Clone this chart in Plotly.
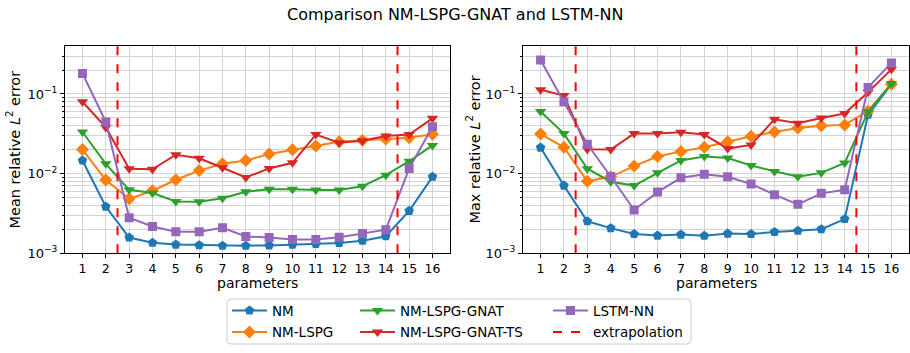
import plotly.graph_objects as go

W, H = 910, 353

params = list(range(1, 17))
extrapolation_bounds = [2.5, 14.5]

series_names = ["NM", "NM-LSPG", "NM-LSPG-GNAT", "NM-LSPG-GNAT-TS", "LSTM-NN"]

# Mean relative L2 error per parameter
mean_nm = [0.0146, 0.00384, 0.00157, 0.00135, 0.00128, 0.00126, 0.00124, 0.00124,
           0.00125, 0.00128, 0.00130, 0.00134, 0.00143, 0.00163, 0.0034, 0.0091]
mean_lspg = [0.020, 0.00828, 0.00481, 0.00608, 0.00836, 0.0109, 0.01325, 0.01456,
             0.0176, 0.0199, 0.0222, 0.0251, 0.0263, 0.0271, 0.0281, 0.0312]
mean_gnat = [0.0333, 0.01326, 0.00625, 0.00569, 0.00446, 0.00443, 0.0049, 0.0059,
             0.00637, 0.00637, 0.0062, 0.0062, 0.00693, 0.00954, 0.0143, 0.0226]
mean_gnat_ts = [0.0798, 0.038, 0.0115, 0.0113, 0.01725, 0.01555, 0.01184, 0.00893,
                0.0116, 0.01364, 0.0309, 0.0244, 0.0258, 0.0297, 0.0309, 0.0494]
mean_lstm = [0.181, 0.0446, 0.00279, 0.00216, 0.00186, 0.00186, 0.00208, 0.00162,
             0.00157, 0.00148, 0.00148, 0.00158, 0.00177, 0.00197, 0.0116, 0.0387]

# Max relative L2 error per parameter
max_nm = [0.0212, 0.00706, 0.00251, 0.00206, 0.00174, 0.00166, 0.00171, 0.00165,
          0.00176, 0.00174, 0.00184, 0.00191, 0.0020, 0.00268, 0.0548, 0.1325]
max_lspg = [0.0315, 0.0214, 0.00798, 0.0091, 0.0124, 0.0164, 0.019, 0.0214,
            0.0251, 0.0295, 0.0333, 0.0373, 0.0398, 0.0409, 0.0613, 0.133]
max_gnat = [0.0602, 0.0318, 0.0115, 0.0079, 0.00706, 0.0102, 0.0146, 0.0164,
            0.0157, 0.0126, 0.0106, 0.0091, 0.0102, 0.0136, 0.0597, 0.135]
max_gnat_ts = [0.113, 0.0955, 0.0202, 0.0200, 0.0318, 0.0318, 0.033, 0.0309,
               0.0206, 0.0229, 0.0481, 0.043, 0.0499, 0.0569, 0.105, 0.204]
max_lstm = [0.268, 0.0798, 0.0233, 0.00919, 0.00349, 0.00585, 0.00885, 0.0098,
            0.0091, 0.0074, 0.00543, 0.0041, 0.00564, 0.00625, 0.121, 0.246]

mean_values = [mean_nm, mean_lspg, mean_gnat, mean_gnat_ts, mean_lstm]
max_values = [max_nm, max_lspg, max_gnat, max_gnat_ts, max_lstm]

colors = ["#1f77b4", "#ff7f0e", "#2ca02c", "#d62728", "#9467bd"]
symbols = ["pentagon", "diamond", "triangle-down", "triangle-down", "square"]
msizes = [10, 10, 10, 10, 9]

FONT = "DejaVu Sans"
GRID = "#d3d3d3"


def px_x(x):
    return x / W


def px_y(y):
    return 1 - y / H


# legend slots (left x, row centre y) in pixels, column-major
legend_slots = [(227, 318), (227, 340), (355, 318), (355, 340), (548, 318), (548, 340)]
legend_ids = ["legend", "legend2", "legend3", "legend4", "legend5", "legend6"]

fig = go.Figure()

for i, name in enumerate(series_names):
    for ax, vals in (("", mean_values[i]), ("2", max_values[i])):
        fig.add_trace(go.Scatter(
            x=params, y=vals, name=name, mode="lines+markers",
            xaxis="x" + ax, yaxis="y" + ax,
            line=dict(color=colors[i], width=2),
            marker=dict(symbol=symbols[i], size=msizes[i], color=colors[i]),
            showlegend=(ax == ""), legend=legend_ids[i],
        ))

# legend entry for the extrapolation markers
fig.add_trace(go.Scatter(
    x=[None], y=[None], name="extrapolation", mode="lines",
    line=dict(color="#ff0000", width=2, dash="dash"),
    legend=legend_ids[5], showlegend=True,
))

shapes = []
for ax in ("", "2"):
    for xb in extrapolation_bounds:
        shapes.append(dict(
            type="line", xref="x" + ax, yref=("y" + ax) + " domain",
            x0=xb, x1=xb, y0=0, y1=1,
            line=dict(color="#ff0000", width=2, dash="dash"), layer="above",
        ))

# legend frame
x0, x1, y0, y1, r = 227, 691, 306, 352, 4
frame = (f"M {px_x(x0 + r)},{px_y(y0)} L {px_x(x1 - r)},{px_y(y0)} "
         f"Q {px_x(x1)},{px_y(y0)} {px_x(x1)},{px_y(y0 + r)} "
         f"L {px_x(x1)},{px_y(y1 - r)} Q {px_x(x1)},{px_y(y1)} {px_x(x1 - r)},{px_y(y1)} "
         f"L {px_x(x0 + r)},{px_y(y1)} Q {px_x(x0)},{px_y(y1)} {px_x(x0)},{px_y(y1 - r)} "
         f"L {px_x(x0)},{px_y(y0 + r)} Q {px_x(x0)},{px_y(y0)} {px_x(x0 + r)},{px_y(y0)} Z")
shapes.append(dict(type="path", xref="paper", yref="paper", path=frame,
                   line=dict(color="#cccccc", width=1), fillcolor="rgba(255,255,255,0.8)",
                   layer="below"))

major = [1e-3, 1e-2, 1e-1]
major_text = ["10<sup>−3</sup>", "10<sup>−2</sup>", "10<sup>−1</sup>"]
minor = [m * d for d in (1e-3, 1e-2, 1e-1) for m in range(2, 10) if m * d < 0.4]

yax = dict(
    type="log", range=[-3, -0.396], domain=[px_y(259), px_y(47)],
    tickvals=major, ticktext=major_text, ticks="outside", ticklen=4,
    tickcolor="black", showgrid=True, gridcolor=GRID, gridwidth=1,
    minor=dict(tickvals=minor, ticks="outside", ticklen=2, tickcolor="black",
               showgrid=True, gridcolor=GRID, gridwidth=1),
    showline=True, mirror=True, linecolor="black", linewidth=1,
    tickfont=dict(family=FONT, size=13, color="black"), zeroline=False,
)
xax = dict(
    range=[0.25, 16.75], tickvals=params, ticks="outside", ticklen=4,
    tickcolor="black", showgrid=True, gridcolor=GRID, gridwidth=1,
    showline=True, mirror=True, linecolor="black", linewidth=1,
    tickfont=dict(family=FONT, size=12.5, color="black"), zeroline=False,
)


def label(text, x, y, size, angle=0):
    return dict(text=text, x=px_x(x), y=px_y(y), xref="paper", yref="paper",
                xanchor="center", yanchor="middle", showarrow=False,
                textangle=angle, font=dict(family=FONT, size=size, color="black"))


layout = dict(
    width=W, height=H, margin=dict(l=0, r=0, t=0, b=0),
    paper_bgcolor="white", plot_bgcolor="white",
    font=dict(family=FONT, size=13, color="black"),
    xaxis=dict(xax, domain=[px_x(65), px_x(450)], anchor="y"),
    yaxis=dict(yax, anchor="x"),
    xaxis2=dict(xax, domain=[px_x(523), px_x(909)], anchor="y2"),
    yaxis2=dict(yax, anchor="x2"),
    shapes=shapes,
    annotations=[
        label("Comparison NM-LSPG-GNAT and LSTM-NN", 455, 15, 16),
        label("parameters", 257, 290, 14),
        label("parameters", 716, 290, 14),
        label("Mean relative <i>L</i><sup>2</sup> error", 13, 153, 14.5, -90),
        label("Max relative <i>L</i><sup>2</sup> error", 473, 153, 14.5, -90),
    ],
)

for lid, (lx, ly) in zip(legend_ids, legend_slots):
    layout[lid] = dict(
        x=px_x(lx), y=px_y(ly), xanchor="left", yanchor="middle",
        orientation="v", bgcolor="rgba(0,0,0,0)", borderwidth=0,
        itemwidth=35, font=dict(family=FONT, size=13.5, color="black"),
    )

fig.update_layout(**layout)
fig.write_html("out.html")
